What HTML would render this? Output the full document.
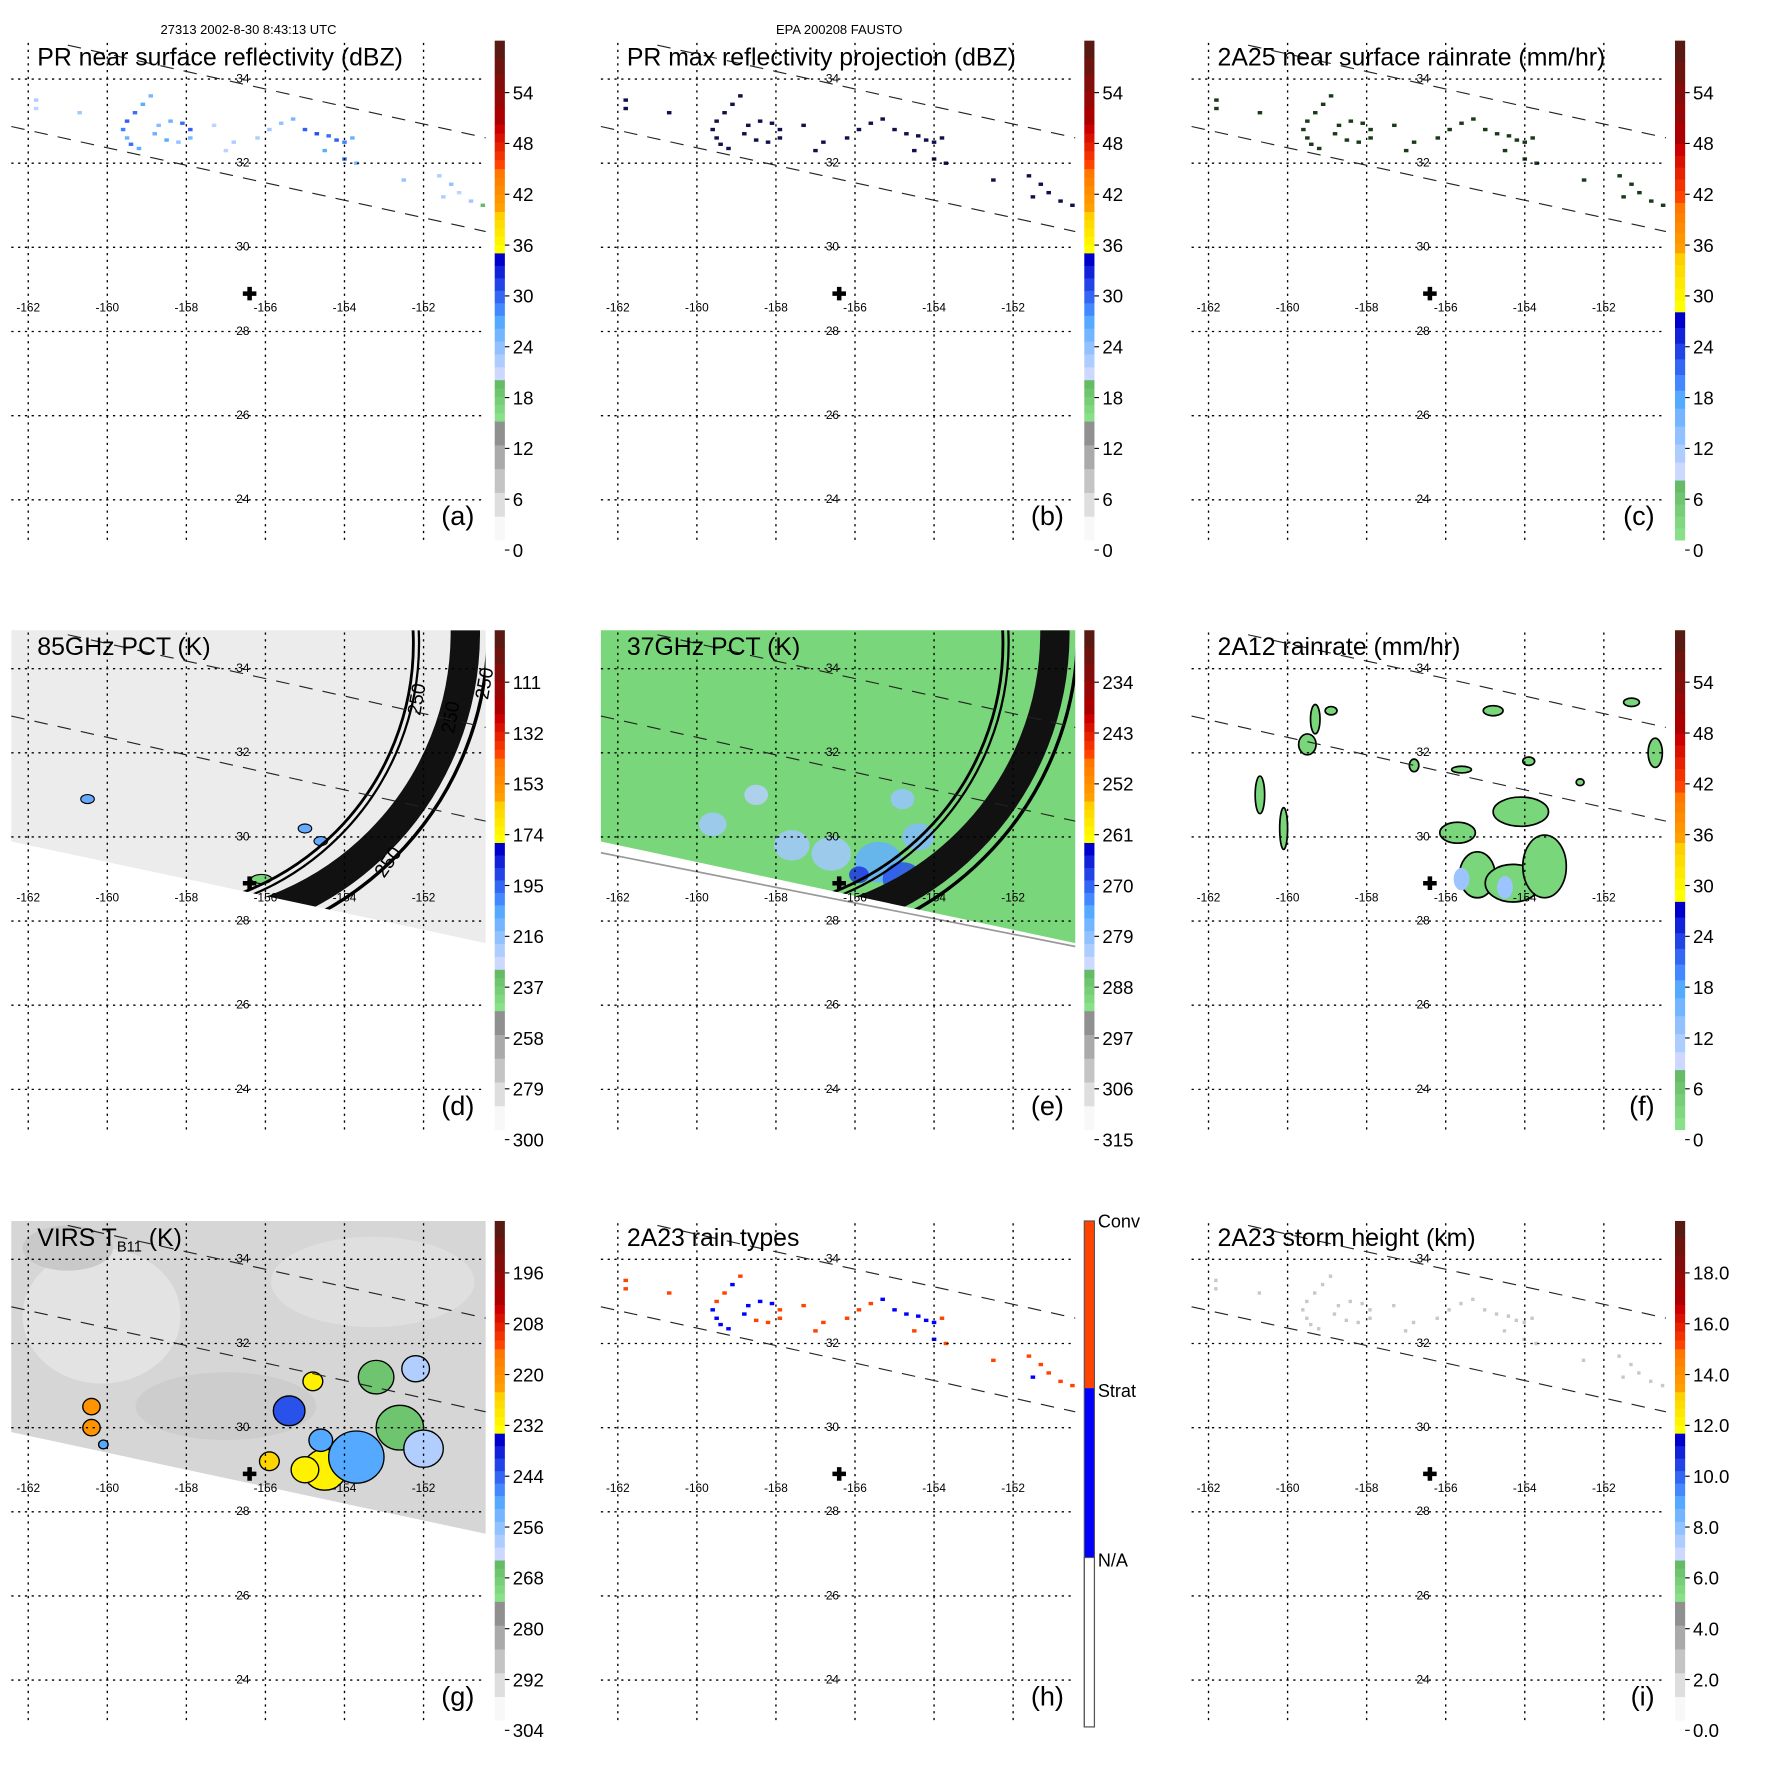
<!DOCTYPE html>
<html><head><meta charset="utf-8"><title>TRMM FAUSTO panels</title>
<style>
html,body{margin:0;padding:0;background:#fff;}
svg{display:block;font-family:"Liberation Sans",Arial,sans-serif;}
</style></head>
<body>
<svg id="fig" xmlns="http://www.w3.org/2000/svg" width="1771" height="1771" viewBox="0 0 1568 1568">
<rect x="0" y="0" width="1568" height="1568" fill="#fff"/>
<text x="220" y="30" font-size="11.5" text-anchor="middle">27313 2002-8-30 8:43:13 UTC</text>
<text x="743" y="30" font-size="11.5" text-anchor="middle">EPA 200208 FAUSTO</text>
</svg>
<script>
// ---------- data ----------
const lonTicks = [-162,-160,-158,-156,-154,-152];
const latTicks = [34,32,30,28,26,24];
const centerLon = -156.4;
const centerLat = 28.9;
// PR echoes (lon, lat, dBZ, rain type 1=conv 2=strat)
const echoLon = [-158.9,-159.1,-159.3,-159.5,-159.6,-159.5,-159.4,-159.2,-158.7,-158.4,-158.1,-157.9,-157.9,-158.2,-158.5,-158.8,-155.6,-155.3,-155.0,-154.7,-154.4,-154.2,-154.0,-153.8,-154.5,-154.0,-153.7,-151.6,-151.3,-151.1,-150.8,-151.5,-150.5,-152.5,-156.8,-157.3,-160.7,-161.8,-161.8,-155.9,-156.2,-157.0];
const echoLat = [33.6,33.4,33.2,33.0,32.8,32.6,32.45,32.35,32.9,33.0,32.95,32.8,32.6,32.5,32.55,32.7,32.95,33.05,32.8,32.7,32.65,32.55,32.5,32.6,32.3,32.1,32.0,31.7,31.5,31.3,31.1,31.2,31.0,31.6,32.5,32.9,33.2,33.5,33.3,32.8,32.6,32.3];
const echoDbz = [26,28,30,31,29,27,30,28,25,27,30,31,26,24,28,27,24,26,31,32,30,31,29,27,28,30,26,22,24,21,23,22,20,24,22,21,23,22,21,23,22,21];
const echoType = [1,2,1,1,2,2,2,2,2,2,2,1,1,1,1,2,1,2,2,2,2,2,2,1,1,2,1,1,1,1,1,2,1,1,1,1,1,1,1,1,1,1];
// 2A12 rain areas (lon, lat, half-width deg, half-height deg)
const rainLon = [-155.2,-154.3,-153.5,-154.1,-155.7,-159.5,-160.7,-160.1,-159.3,-158.9,-154.8,-151.3,-150.7,-156.8,-153.9,-152.6,-155.6];
const rainLat = [29.1,28.9,29.3,30.6,30.1,32.2,31.0,30.2,32.8,33.0,33.0,33.2,32.0,31.7,31.8,31.3,31.6];
const rainDx = [0.45,0.7,0.55,0.7,0.45,0.22,0.12,0.1,0.12,0.15,0.25,0.2,0.18,0.12,0.15,0.1,0.25];
const rainDy = [0.55,0.45,0.75,0.35,0.25,0.25,0.45,0.5,0.35,0.1,0.12,0.1,0.35,0.15,0.1,0.08,0.08];
// VIRS cold cloud cells (lon, lat, radius deg, Tb K)
const cellLon = [-154.5,-153.7,-152.6,-152.0,-155.4,-153.2,-152.2,-160.4,-160.4,-160.1,-155.0,-154.8,-155.9,-154.6];
const cellLat = [29.0,29.3,30.0,29.5,30.4,31.2,31.4,30.5,30.0,29.6,29.0,31.1,29.2,29.7];
const cellR = [0.55,0.7,0.6,0.5,0.4,0.45,0.35,0.22,0.22,0.12,0.35,0.25,0.25,0.3];
const cellTb = [232,250,268,262,244,268,262,222,222,250,232,232,226,250];
// 37 GHz depressed areas (lon, lat, radius, Tb)
const pctLon = [-155.4,-154.8,-155.9,-156.6,-157.6,-159.6,-154.4,-154.8,-158.5];
const pctLat = [29.4,29.0,29.1,29.6,29.8,30.3,30.0,30.9,31.0];
const pctR = [0.6,0.5,0.25,0.5,0.45,0.35,0.4,0.3,0.3];
const pctTb = [276,270,268,282,282,282,279,281,284];
// colorbar tick labels
const ticksA = ["0","6","12","18","24","30","36","42","48","54"];
const ticksD = ["300","279","258","237","216","195","174","153","132","111"];
const ticksE = ["315","306","297","288","279","270","261","252","243","234"];
const ticksG = ["304","292","280","268","256","244","232","220","208","196"];
const ticksI = ["0.0","2.0","4.0","6.0","8.0","10.0","12.0","14.0","16.0","18.0"];

// ---------- helpers ----------
const NS = "http://www.w3.org/2000/svg";
const fig = document.getElementById('fig');
function el(tag, attrs, parent){ const e=document.createElementNS(NS,tag); for(const k in attrs) e.setAttribute(k,attrs[k]); (parent||fig).appendChild(e); return e; }
function xS(lon){ return 25 + (lon+162)*35; }
function yS(lat){ return 70 + (34-lat)*37.25; }
function hex(c){ return [parseInt(c.slice(1,3),16),parseInt(c.slice(3,5),16),parseInt(c.slice(5,7),16)]; }
function mix(a,b,t){ const A=hex(a),B=hex(b); return 'rgb('+A.map((v,i)=>Math.round(v+(B[i]-v)*t)).join(',')+')'; }
const schemeA = [[0,.238,'#f8f8f8','#909090'],[.238,.321,'#88e088','#66bb66'],[.321,.45,'#ccd8ff','#55aaff'],[.45,.575,'#4488ff','#0000cc'],[.575,.658,'#ffff00','#ffd000'],[.658,.744,'#ffa000','#ff7700'],[.744,.833,'#ff4400','#cc0000'],[.833,1,'#aa0000','#5a1a14']];
const schemeC = [[0,.12,'#88e088','#66bb66'],[.12,.3,'#ccd8ff','#55aaff'],[.3,.457,'#4488ff','#0000cc'],[.457,.575,'#ffff00','#ffd000'],[.575,.676,'#ffa000','#ff7700'],[.676,.794,'#ff4400','#cc0000'],[.794,1,'#aa0000','#5a1a14']];
function colorAt(scheme,f){ for(const s of scheme){ if(f>=s[0]&&f<=s[1]) return mix(s[2],s[3],(f-s[0])/(s[1]-s[0])); } return '#fff'; }

function colorbar(g, scheme, ticks){
  const cb = el('g',{},g);
  
  
  const top=36,bot=478,h=bot-top;
  for(const s of scheme){
    const n=5;
    for(let i=0;i<n;i++){
      const f0=s[0]+(s[1]-s[0])*i/n, f1=s[0]+(s[1]-s[0])*(i+1)/n;
      el('rect',{x:438,y:bot-f1*h,width:9,height:(f1-f0)*h+0.5,fill:mix(s[2],s[3],i/(n-1))},cb);
    }
  }
  ticks.forEach((t,i)=>{
    const y=487-45*i;
    el('line',{x1:447,x2:451,y1:y,y2:y,stroke:'#000','stroke-width':1},cb);
    const tx=el('text',{x:454,y:y+6,'font-size':16.5},cb);
    
    
    tx.textContent=t;
  });
}

function grid(g){
  const gg=el('g',{},g);
  
  
  lonTicks.forEach(l=>el('line',{x1:xS(l),x2:xS(l),y1:38,y2:482,stroke:'#000','stroke-width':1.2,'stroke-dasharray':'2,4'},gg));
  latTicks.forEach(l=>el('line',{x1:10,x2:430,y1:yS(l),y2:yS(l),stroke:'#000','stroke-width':1.2,'stroke-dasharray':'2,4'},gg));
  lonTicks.forEach(l=>{ const t=el('text',{x:xS(l),y:276,'font-size':10.5,'text-anchor':'middle'},gg);
    
    
    t.textContent=String(l); });
  latTicks.forEach(l=>{ const t=el('text',{x:215,y:yS(l)+3,'font-size':10.5,'text-anchor':'middle'},gg);
    
    
    t.textContent=String(l); });
  el('line',{x1:60,y1:40,x2:430,y2:122,stroke:'#222','stroke-width':1,'stroke-dasharray':'12,9'},gg);
  el('line',{x1:10,y1:112,x2:430,y2:205,stroke:'#222','stroke-width':1,'stroke-dasharray':'12,9'},gg);
  const cx=xS(centerLon), cy=yS(centerLat);
  const c=el('path',{d:`M${cx-2},${cy-6}h4v4h4v4h-4v4h-4v-4h-4v-4h4z`,fill:'#000'},gg);
  
  
}

function swath(g,fill,id){
  el('clipPath',{id:id},g);
  const cp=g.lastChild;
  el('polygon',{points:'10,36 430,36 430,313 10,223'},cp);
  const bg=el('polygon',{points:'10,36 430,36 430,313 10,223',fill:fill},g);
  
  
  return id;
}
function arcs(g,clip,cx1,cy1,r1,cx2,cy2,r2){
  const a=el('g',{'clip-path':`url(#${clip})`},g);
  
  
  el('circle',{cx:cx1,cy:cy1,r:r1,fill:'none',stroke:'#000','stroke-width':2.5},a);
  el('circle',{cx:cx1,cy:cy1,r:r1+5,fill:'none',stroke:'#000','stroke-width':2},a);
  el('circle',{cx:cx2,cy:cy2,r:r2,fill:'none',stroke:'#111','stroke-width':26},a);
  el('circle',{cx:cx2,cy:cy2,r:r2+20,fill:'none',stroke:'#000','stroke-width':3},a);
  return a;
}

const cols=[0,522,1045], rows=[0,522,1045];
const panels=[
 {id:'a',title:'PR near surface reflectivity (dBZ)',scheme:schemeA,ticks:ticksA},
 {id:'b',title:'PR max reflectivity projection (dBZ)',scheme:schemeA,ticks:ticksA},
 {id:'c',title:'2A25 near surface rainrate (mm/hr)',scheme:schemeC,ticks:ticksA},
 {id:'d',title:'85GHz PCT (K)',scheme:schemeA,ticks:ticksD},
 {id:'e',title:'37GHz PCT (K)',scheme:schemeA,ticks:ticksE},
 {id:'f',title:'2A12 rainrate (mm/hr)',scheme:schemeC,ticks:ticksA},
 {id:'g',title:'VIRS',scheme:schemeA,ticks:ticksG},
 {id:'h',title:'2A23 rain types',scheme:null,ticks:null},
 {id:'i',title:'2A23 storm height (km)',scheme:schemeA,ticks:ticksI}
];

panels.forEach((p,k)=>{
  const g=el('g',{transform:`translate(${cols[k%3]},${rows[Math.floor(k/3)]})`});
  
  
  if(p.id==='d'){
    const cid=swath(g,'#ececec','clip-d');
    const m=el('g',{},g);
    
    
    [[-160.5,30.9],[-155.0,30.2],[-154.6,29.9],[-156.1,29.0],[-154.8,28.9]].forEach((q,i)=>{
      const e=el('ellipse',{cx:xS(q[0]),cy:yS(q[1]),rx:i>2?9:6,ry:4,fill:i>2?'#7ad67a':'#66aaff',stroke:'#000','stroke-width':1},m);
      
      
    });
    arcs(g,cid,130,48,236,150,38,262);
    [[372,112,-80],[402,128,-80],[432,98,-80],[340,256,-55]].forEach(pos=>{
      const t=el('text',{x:pos[0],y:pos[1],'font-size':17,transform:`rotate(${pos[2]} ${pos[0]} ${pos[1]})`},g);
      
      
      t.textContent='250';
    });
  }
  if(p.id==='e'){
    const cid=swath(g,'#7ad67a','clip-e');
    el('line',{x1:10,y1:233,x2:430,y2:316,stroke:'#999','stroke-width':1.5},g);
    const m=el('g',{'clip-path':'url(#clip-e)'},g);
    
    
    pctLon.forEach((lon,i)=>{
      const f=(315-pctTb[i])/90;
      const e=el('ellipse',{cx:xS(lon),cy:yS(pctLat[i]),rx:pctR[i]*35,ry:pctR[i]*30,fill:colorAt(schemeA,f),opacity:0.85},m);
      
      
    });
    arcs(g,cid,130,48,236,150,38,262);
  }
  if(p.id==='g'){
    const cid=swath(g,'#d6d6d6','clip-g');
    const m=el('g',{'clip-path':'url(#clip-g)'},g);
    
    
    el('ellipse',{cx:90,cy:120,rx:70,ry:60,fill:'#e3e3e3'},m);
    el('ellipse',{cx:330,cy:90,rx:90,ry:40,fill:'#dfdfdf'},m);
    el('ellipse',{cx:200,cy:200,rx:80,ry:30,fill:'#cdcdcd'},m);
    el('ellipse',{cx:60,cy:60,rx:40,ry:20,fill:'#c9c9c9'},m);
    cellLon.forEach((lon,i)=>{
      const f=(304-cellTb[i])/120;
      const e=el('ellipse',{cx:xS(lon),cy:yS(cellLat[i]),rx:cellR[i]*35,ry:cellR[i]*33,fill:colorAt(schemeA,f),stroke:'#000','stroke-width':1.2},m);
      
      
    });
  }
  if(p.id==='f'){
    const m=el('g',{},g);
    
    
    rainLon.forEach((lon,i)=>{
      const e=el('ellipse',{cx:xS(lon),cy:yS(rainLat[i]),rx:rainDx[i]*35,ry:rainDy[i]*37,fill:'#7ad67a',stroke:'#000','stroke-width':1.5},m);
      
      
    });
    [[-155.6,29.0],[-154.5,28.8]].forEach(q=>el('ellipse',{cx:xS(q[0]),cy:yS(q[1]),rx:7,ry:10,fill:'#9cc4ff'},m));
  }
  if(['a','b','c','h','i'].includes(p.id)){
    const m=el('g',{},g);
    
    
    echoLon.forEach((lon,i)=>{
      let fill;
      if(p.id==='a') fill=colorAt(schemeA,0.321+ (echoDbz[i]-20)/60*0.9);
      else if(p.id==='b') fill='#10104a';
      else if(p.id==='c') fill='#1a3a1a';
      else if(p.id==='h') fill=echoType[i]===1?'#ff4400':'#0000ff';
      else fill='#c8c8c8';
      const r=el('rect',{x:xS(lon)-2,y:yS(echoLat[i])-1.5,width:p.id==='i'?3:4,height:3,fill:fill},m);
      
      
    });
  }
  grid(g);
  const t=el('text',{x:33,y:58,'font-size':22},g);
  
  
  if(p.id==='g'){ t.innerHTML='VIRS T<tspan font-size="13" dy="5">B11</tspan><tspan dy="-5"> (K)</tspan>'; }
  else t.textContent=p.title;
  const lb=el('text',{x:420,y:465,'font-size':24,'text-anchor':'end'},g);
  
  
  lb.textContent='('+p.id+')';
  if(p.scheme) colorbar(g,p.scheme,p.ticks);
  else {
    const cb=el('g',{},g);
    
    
    el('rect',{x:438,y:36,width:9,height:148,fill:'#ff4400'},cb);
    el('rect',{x:438,y:184,width:9,height:150,fill:'#0000ff'},cb);
    el('rect',{x:438,y:334,width:9,height:150,fill:'#fff',stroke:'#555','stroke-width':1},cb);
    el('rect',{x:438,y:36,width:9,height:448,fill:'none',stroke:'#555','stroke-width':1},cb);
    [['Conv',42],['Strat',192],['N/A',342]].forEach(q=>{
      const tx=el('text',{x:450,y:q[1],'font-size':16},cb);
      
      
      tx.textContent=q[0];
    });
  }
});
</script>
</body></html>
